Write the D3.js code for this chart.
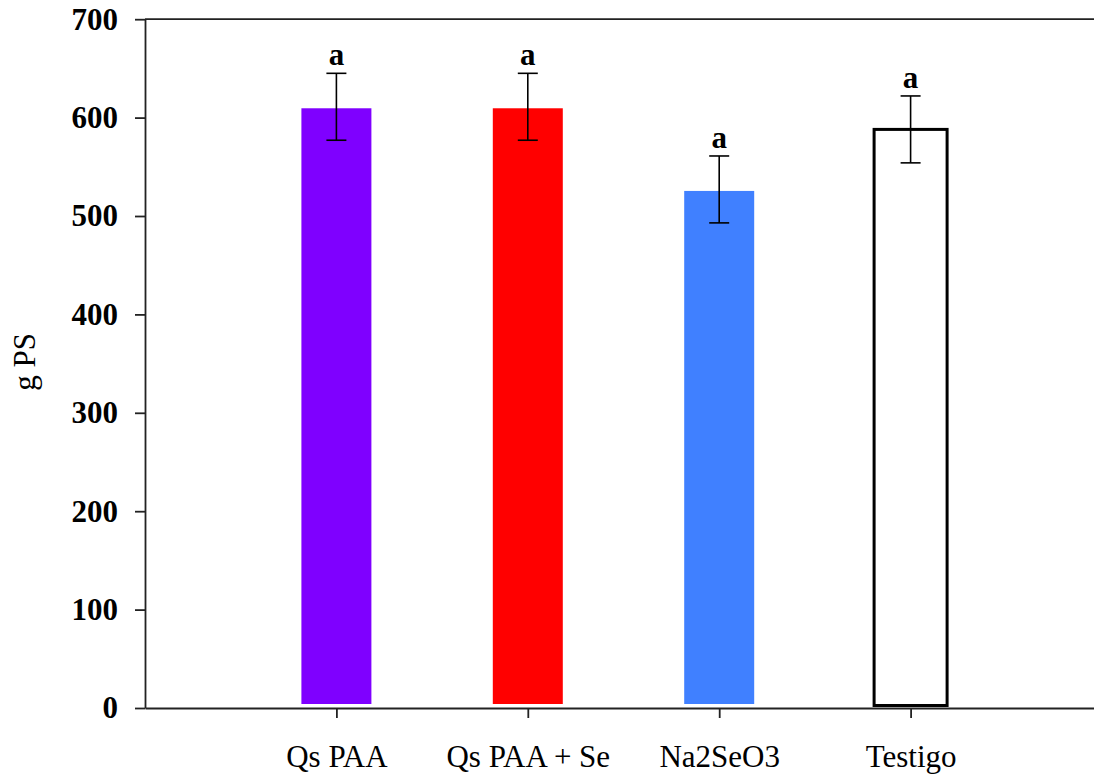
<!DOCTYPE html>
<html lang="en">
  <head>
    <meta charset="UTF-8">
    <title>g PS</title>
    <style>
body {margin: 0; background: #fff;}
svg text {font-family: "Liberation Serif", "DejaVu Serif", serif; fill: #000;}
</style>
  </head>
  <body>
<script src="https://d3js.org/d3.v7.min.js"></script>
<div id="my_dataviz"></div>
    <script>

// data
var categories = ["Qs PAA", "Qs PAA + Se", "Na2SeO3", "Testigo"];
var values = [611, 611, 527, 588];
var errors = [34, 34, 34, 34];
var letters = ["a", "a", "a", "a"];
var colors = ["#7f00ff", "#ff0000", "#4080ff", "#ffffff"];
var yTicks = [0, 100, 200, 300, 400, 500, 600, 700];

var W = 1094, H = 777;

var svg = d3.select("#my_dataviz")
  .append("svg")
    .attr("width", W)
    .attr("height", H);

// x runs 0..5, bars sit on 1..4
var x = d3.scaleLinear()
  .domain([0, 5])
  .range([145, 1102]);

var y = d3.scaleLinear()
  .domain([0, 700])
  .range([708, 19.2]);

// Y axis
var yAxis = svg.append("g")
  .attr("transform", "translate(" + x(0) + ",0)")
  .call(d3.axisLeft(y).tickValues(yTicks).tickSize(10).tickSizeOuter(0).tickPadding(17));
yAxis.selectAll("text")
  .style("font-size", "31px")
  .style("font-weight", "bold");

// X axis
var xAxis = svg.append("g")
  .attr("transform", "translate(0," + y(0) + ")")
  .call(d3.axisBottom(x).tickValues([1, 2, 3, 4])
    .tickFormat(function(d) { return categories[d - 1]; })
    .tickSize(10).tickSizeOuter(0).tickPadding(27));
xAxis.selectAll("text")
  .style("font-size", "31px");

svg.selectAll(".domain, .tick line")
  .attr("stroke", "#222")
  .attr("stroke-width", 1.8);

// top frame line
svg.append("line")
  .attr("x1", x(0)).attr("x2", x(5))
  .attr("y1", y(700)).attr("y2", y(700))
  .attr("stroke", "#222")
  .attr("stroke-width", 1.8);

// bars
var bw = 73;
svg.selectAll("rect.bar")
  .data(values)
  .enter()
  .append("rect")
    .attr("class", "bar")
    .attr("x", function(d, i) { return x(i + 1) - bw / 2; })
    .attr("y", function(d) { return y(d); })
    .attr("width", bw)
    .attr("height", function(d) { return y(0) - y(d) - 2.5; })
    .attr("fill", function(d, i) { return colors[i]; })
    .attr("stroke", function(d, i) { return i == 3 ? "#000" : "#fff"; })
    .attr("stroke-width", 3);

// error bars
var eb = svg.selectAll("g.err")
  .data(values)
  .enter()
  .append("g")
    .attr("class", "err")
    .attr("stroke", "#000")
    .attr("stroke-width", 1.6);

eb.append("line")
  .attr("x1", function(d, i) { return x(i + 1); })
  .attr("x2", function(d, i) { return x(i + 1); })
  .attr("y1", function(d, i) { return y(d - errors[i]); })
  .attr("y2", function(d, i) { return y(d + errors[i]); });
eb.append("line")
  .attr("x1", function(d, i) { return x(i + 1) - 10; })
  .attr("x2", function(d, i) { return x(i + 1) + 10; })
  .attr("y1", function(d, i) { return y(d + errors[i]); })
  .attr("y2", function(d, i) { return y(d + errors[i]); });
eb.append("line")
  .attr("x1", function(d, i) { return x(i + 1) - 10; })
  .attr("x2", function(d, i) { return x(i + 1) + 10; })
  .attr("y1", function(d, i) { return y(d - errors[i]); })
  .attr("y2", function(d, i) { return y(d - errors[i]); });

// significance letters
svg.selectAll("text.letter")
  .data(values)
  .enter()
  .append("text")
    .attr("class", "letter")
    .attr("x", function(d, i) { return x(i + 1); })
    .attr("y", function(d, i) { return y(d + errors[i]) - 8; })
    .attr("text-anchor", "middle")
    .style("font-size", "31px")
    .style("font-weight", "bold")
    .text(function(d, i) { return letters[i]; });

// y label
svg.append("text")
  .attr("transform", "translate(35," + 362 + ") rotate(-90)")
  .attr("text-anchor", "middle")
  .style("font-size", "31px")
  .text("g PS");

</script>
  </body>
</html>
